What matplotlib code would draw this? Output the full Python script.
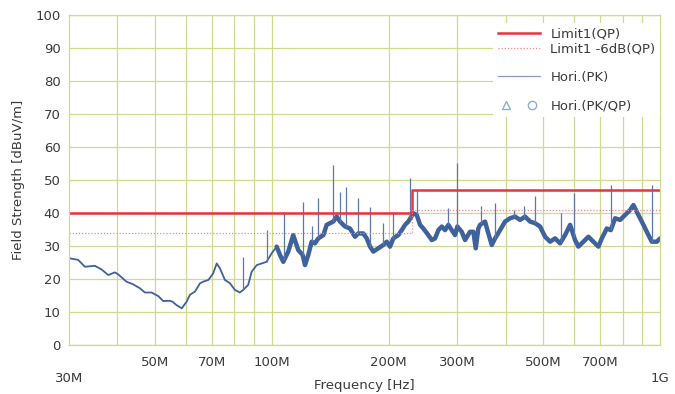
import matplotlib.pyplot as plt
from matplotlib.lines import Line2D
from matplotlib.legend_handler import HandlerTuple
import numpy as np

################################### Data

# limit lines, dBuV/m
limit_f = [30, 230, 230, 1000]
limit_qp = [40, 40, 47, 47]
limit_6db = [34, 34, 41, 41]

# horizontal polarisation peak trace (MHz, dBuV/m)
freq = [30.0, 31.7, 33.0, 35.0, 36.4, 37.9, 39.4, 40.2, 42.2, 43.9,
        45.7, 47.1, 49.0, 51.0, 52.5, 54.6, 55.5, 56.8, 58.6, 60.3,
        61.5, 63.4, 65.3, 66.6, 68.6, 70.6, 72.1, 73.5, 75.7, 78.0,
        80.3, 82.7, 84.4, 86.9, 88.7, 91.4, 94.1, 96.9, 99.9, 102.9,
        104.9, 107.0, 110.2, 113.5, 116.9, 120.0, 121.7, 124.1, 126.6, 129.1,
        131.7, 135.7, 138.4, 141.1, 143.9, 146.9, 149.8, 154.3, 158.9, 163.7,
        166.9, 172.0, 175.5, 179.0, 182.5, 188.0, 193.6, 197.6, 201.5, 205.5,
        211.7, 216.0, 220.3, 224.6, 231.4, 236.1, 240.8, 245.5, 252.9, 258.1,
        263.2, 268.4, 273.9, 279.3, 284.8, 290.6, 296.3, 300.4, 308.3, 314.4,
        323.9, 330.3, 335.0, 340.2, 343.7, 354.0, 361.0, 368.4, 375.7, 387.0,
        398.6, 410.6, 423.0, 435.7, 448.8, 462.3, 476.3, 490.6, 505.4, 520.6,
        536.3, 552.4, 569.0, 586.2, 603.8, 615.8, 634.3, 653.4, 673.1, 693.3,
        707.5, 728.8, 746.3, 765.6, 788.6, 812.4, 836.8, 853.4, 879.1, 905.5,
        932.8, 951.8, 980.5, 1000.0]
level = [26.3, 25.8, 23.7, 24.0, 22.9, 21.2, 22.0, 21.4, 19.2, 18.4,
         17.2, 15.9, 15.9, 14.8, 13.3, 13.4, 13.1, 12.1, 11.1, 13.1,
         15.2, 16.2, 18.7, 19.2, 19.7, 21.7, 24.7, 23.2, 19.7, 18.7,
         16.7, 15.9, 16.7, 18.2, 22.2, 24.2, 24.7, 25.2, 27.8, 29.8,
         27.3, 25.2, 28.3, 33.3, 28.8, 27.3, 24.2, 27.3, 31.3, 30.8,
         32.3, 33.3, 36.4, 36.9, 37.4, 38.9, 37.4, 35.9, 35.3, 32.8,
         33.8, 33.8, 32.3, 29.8, 28.3, 29.3, 30.3, 31.3, 29.8, 32.3,
         33.3, 34.8, 36.4, 37.4, 39.9, 39.4, 36.4, 35.3, 33.3, 31.8,
         32.3, 34.8, 35.9, 34.8, 36.4, 34.8, 33.3, 35.9, 34.3, 31.8,
         34.3, 34.3, 29.3, 35.3, 36.4, 37.4, 33.8, 30.3, 32.3, 34.8,
         37.4, 38.4, 38.9, 37.9, 38.9, 37.4, 36.9, 35.9, 32.8, 31.3,
         32.3, 30.8, 33.3, 36.4, 31.8, 29.8, 31.3, 32.8, 31.3, 29.8,
         32.3, 35.3, 34.8, 38.4, 37.9, 39.4, 40.9, 42.4, 39.4, 36.4,
         33.3, 31.3, 31.3, 32.3]

# narrow spikes sticking out of the trace (MHz, peak dBuV/m)
spike_f = [84.4, 96.9, 107.5, 120.0, 126.6, 131.7, 143.9, 149.8, 154.8, 166.9,
           179.3, 193.6, 205.0, 227.0, 236.0, 285.0, 300.0, 345.0, 375.0, 420.0,
           445.0, 476.0, 555.0, 600.0, 746.0, 955.0]
spike_top = [26.8, 34.8, 40.4, 43.4, 36.0, 44.4, 54.5, 46.5, 48.0, 44.4,
             41.9, 37.0, 40.4, 50.5, 47.0, 41.4, 55.0, 42.0, 43.0, 41.0,
             42.0, 45.0, 40.0, 46.0, 48.5, 48.5]

grid_f = [40, 50, 60, 70, 80, 90, 100, 200, 300, 400, 500, 600, 700, 800, 900]
grid_lab = ['', '50M', '', '70M', '', '', '100M', '200M', '300M', '', '500M', '', '700M', '', '']

################################### Plot

grid_col = '#d0d98e'
trace_col = '#3f619c'
txt_col = '#3a3a3a'

fig = plt.figure(figsize=(6.75, 3.94), dpi=100)
ax = fig.add_axes([0.102, 0.1244, 0.876, 0.8376])

freq = np.array(freq)
level = np.array(level)

ax.plot(freq, level, color=trace_col, lw=1.3, solid_joinstyle='round')
hi = freq >= 100
ax.plot(freq[hi], level[hi], color=trace_col, lw=3.2, solid_joinstyle='round', solid_capstyle='round')
base = np.interp(spike_f, freq, level)
ax.vlines(spike_f, base, spike_top, color='#5a78aa', lw=0.9)

ax.plot(limit_f, limit_qp, color='#e8323c', lw=1.8)
ax.plot(limit_f, limit_6db, color='#ee8a8a', lw=0.9, linestyle=(0, (1, 1.5)))

ax.set_xscale('log')
ax.set_xlim(30, 1000)
ax.set_ylim(0, 100)
ax.set_yticks(range(0, 101, 10))
ax.set_xticks(grid_f)
ax.set_xticklabels(grid_lab)
ax.set_xticks([30, 1000], minor=True)
ax.set_xticklabels(['30M', '1G'], minor=True)
ax.tick_params(which='both', length=0, labelsize=9.5, labelcolor=txt_col)
ax.tick_params(axis='x', which='major', pad=8)
ax.tick_params(axis='x', which='minor', pad=19.5)
ax.tick_params(axis='y', pad=6)
ax.grid(True, which='major', color=grid_col, lw=0.9)
ax.set_axisbelow(True)
for s in ax.spines.values():
    s.set_color(grid_col)
    s.set_linewidth(0.9)

ax.set_xlabel('Frequency [Hz]', fontsize=9.5, color=txt_col)
ax.xaxis.set_label_coords(0.5, -0.103)
ax.set_ylabel('Field Strength [dBuV/m]', fontsize=9.5, color=txt_col)
ax.yaxis.set_label_coords(-0.074, 0.5)

################################### Legend

h_qp = Line2D([], [], color='#e8323c', lw=1.8)
h_6db = Line2D([], [], color='#ee8a8a', lw=0.9, linestyle=(0, (1, 1.5)))
h_blank = Line2D([], [], color='none')
h_pk = Line2D([], [], color='#8a9cc0', lw=0.9)
h_m1 = Line2D([], [], color='none', marker='^', markersize=6, markerfacecolor='none', markeredgecolor='#8aaed8')
h_m2 = Line2D([], [], color='none', marker='o', markersize=6, markerfacecolor='none', markeredgecolor='#8aaed8')
leg = ax.legend([h_qp, h_6db, h_blank, h_pk, h_blank, (h_m1, h_m2)],
                ['Limit1(QP)', 'Limit1 -6dB(QP)', '', 'Hori.(PK)', '', 'Hori.(PK/QP)'],
                handler_map={tuple: HandlerTuple(ndivide=None, pad=0.8)},
                loc='upper right', bbox_to_anchor=(1.0, 0.975), borderaxespad=0,
                fontsize=9.5, frameon=True, fancybox=False, edgecolor='none',
                facecolor='white', framealpha=1,
                handlelength=3.2, labelspacing=0.1, borderpad=0.35)
for t in leg.get_texts():
    t.set_color(txt_col)

plt.savefig('out.png', dpi=100)
